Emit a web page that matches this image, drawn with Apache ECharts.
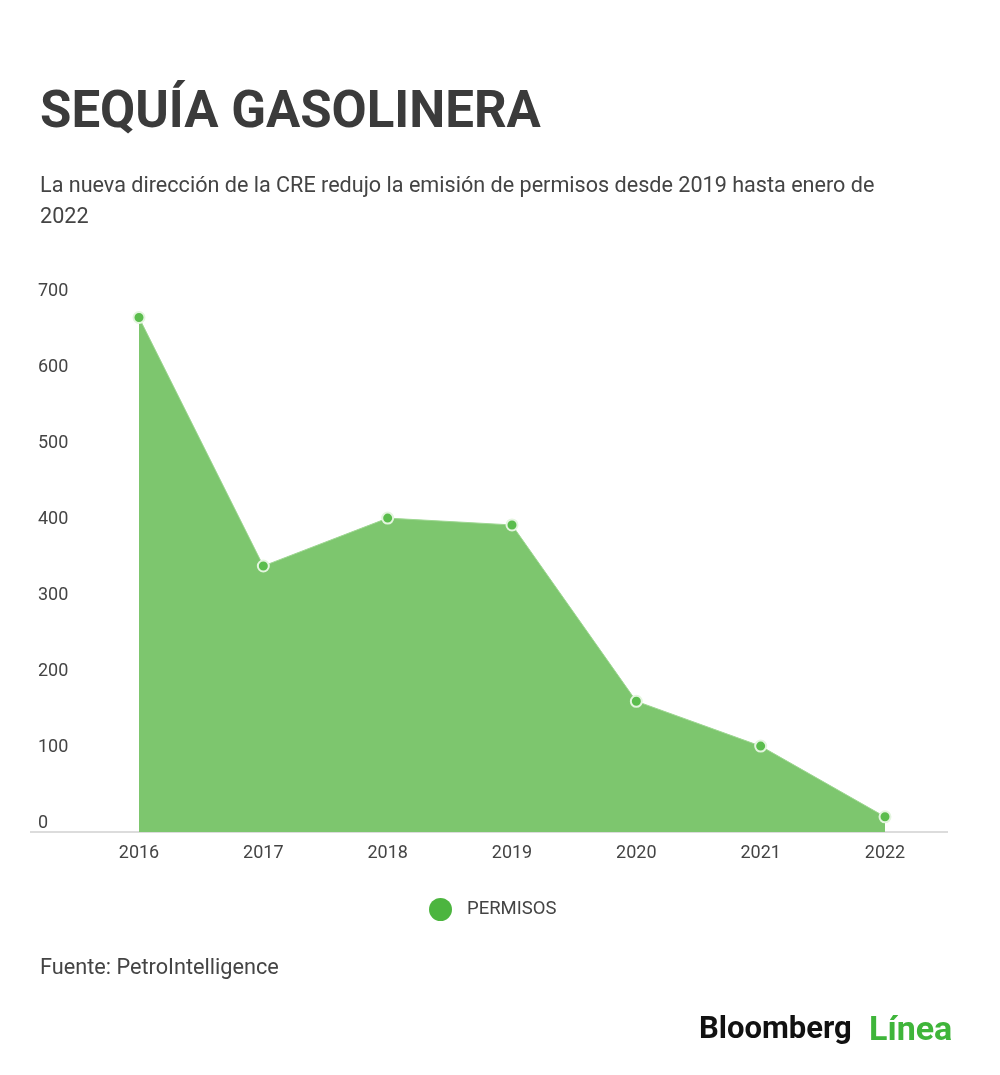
<!DOCTYPE html>
<html>
<head>
<meta charset="utf-8">
<script src="https://cdn.jsdelivr.net/npm/echarts@6/dist/echarts.min.js"></script>
<style>
html,body{margin:0;padding:0;background:#fff;}
#chart{width:1000px;height:1075px;}
</style>
</head>
<body>
<div id="chart"></div>
<script>
const years = ['2016','2017','2018','2019','2020','2021','2022'];
const permisos = [677, 350, 413, 404, 172, 113, 20];
const yTicks = [0, 100, 200, 300, 400, 500, 600, 700];
const seriesName = 'PERMISOS';
const titleText = 'SEQUÍA GASOLINERA';
const subtitleText = 'La nueva dirección de la CRE redujo la emisión de permisos desde 2019 hasta enero de\n2022';
const sourceText = 'Fuente: PetroIntelligence';

const chart = echarts.init(document.getElementById('chart'), null, {renderer:'canvas'});
const font = 'Roboto, "Noto Sans", sans-serif';
chart.setOption({
  backgroundColor:'#ffffff',
  animation:false,
  title:[
    {text:titleText, left:35, top:84, textStyle:{fontFamily:font, fontSize:51, fontWeight:'bold', color:'#3b3b3b'}},
    {text:subtitleText, left:35, top:166, textStyle:{fontFamily:font, fontSize:21.6, fontWeight:'normal', color:'#444', lineHeight:31}}
  ],
  grid:{left:139, right:115, top:300, bottom:243},
  xAxis:{
    type:'category', data:years, boundaryGap:false,
    axisLine:{show:false}, axisTick:{show:false},
    axisLabel:{fontFamily:font, fontSize:18, color:'#444', margin:12}
  },
  yAxis:{
    type:'value', min:0, max:700, interval:100,
    splitLine:{show:false}, axisLine:{show:false}, axisTick:{show:false},
    axisLabel:{fontFamily:font, fontSize:18, color:'#444', align:'left', margin:101, verticalAlign:'bottom', lineHeight:18,
      formatter:function(v){return yTicks.indexOf(v)>=0? String(v):'';}}
  },
  legend:{
    data:[seriesName], left:424, top:893, icon:'circle', itemWidth:23, itemHeight:23,
    itemStyle:{color:'#4cb53f', borderWidth:0},
    textStyle:{fontFamily:font, fontSize:18.5, color:'#444', padding:[0,0,0,10]}
  },
  series:[{
    name:seriesName, type:'line', data:permisos,
    symbol:'circle', symbolSize:11,
    itemStyle:{color:'#5bbd4d', borderColor:'#e4f5df', borderWidth:2},
    lineStyle:{color:'#9ed792', width:1},
    areaStyle:{color:'#7dc66e', opacity:1}
  }],
  graphic:[
    {type:'line', shape:{x1:30, y1:832, x2:948, y2:832}, style:{stroke:'#dcdcdc', lineWidth:2}, z:-1},
    {type:'text', left:40, top:958, style:{text:sourceText, font:'21.7px Roboto, sans-serif', fill:'#444'}},
    {type:'text', left:699, top:1015, style:{text:'Bloomberg', font:'bold 31px Roboto, sans-serif', fill:'#111'}},
    {type:'text', left:869, top:1014, style:{text:'Línea', font:'bold 34px Roboto, sans-serif', fill:'#3fb53a'}}
  ]
});
</script>
</body>
</html>
